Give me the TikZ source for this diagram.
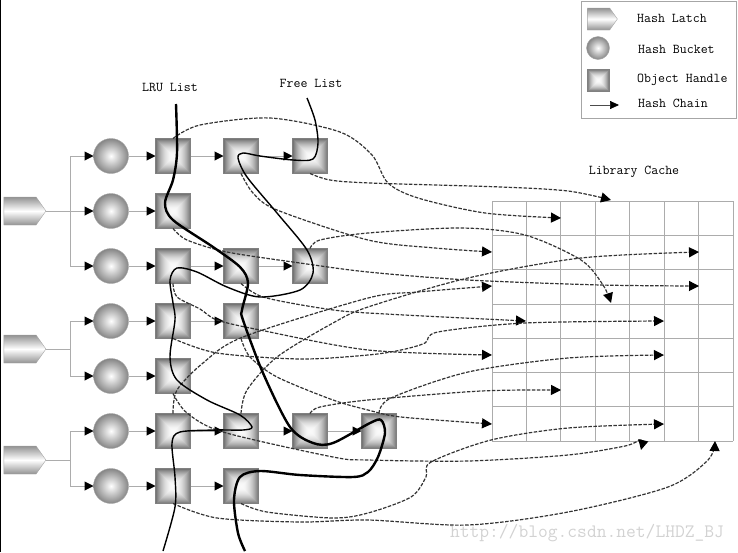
\documentclass[tikz,border=0pt]{standalone}
\usetikzlibrary{arrows.meta,shapes.symbols}
\pgfdeclarefunctionalshading{handleface}{\pgfpoint{-50bp}{-50bp}}{\pgfpoint{50bp}{50bp}}{}{
  abs exch abs 2 copy lt {exch} if pop
  25 div dup mul 0.55 mul 0.98 exch sub dup dup
}
\tikzset{
  latch/.style={signal,signal to=east,signal pointer angle=110,draw=gray!70,inner sep=0pt,outer sep=0pt,
    minimum width=42pt,minimum height=28pt,top color=gray!85,bottom color=gray!85,middle color=white},
  bucket/.style={circle,inner sep=0pt,outer sep=0pt,minimum size=35pt,draw=gray!70,inner color=white,outer color=gray!95},
  handle/.style={rectangle,inner sep=0pt,outer sep=0pt,minimum size=35pt,draw=gray,line width=0.8pt,shading=handleface},
  chain/.style={draw=gray!65,line width=1pt,-{Triangle[length=9pt,width=9pt,black]}},
  branch/.style={draw=gray!65,line width=1pt},
  gridline/.style={draw=gray!65,line width=0.9pt},
  cachelink/.style={dash pattern=on 3.5pt off 1.5pt,line width=1.2pt,black!80,-{Triangle[length=10pt,width=10pt,black]}},
  lrulist/.style={black,line width=2.4pt},
  freelist/.style={black,line width=1.4pt},
  caption/.style={inner sep=0pt,font=\fontsize{13.5}{15}\ttfamily},
}
\begin{document}
\begin{tikzpicture}[x=1pt,y=-1pt]
\useasboundingbox (0,0) rectangle (738,552);
\coordinate (edgetop) at (0,0);
\coordinate (edgebottom) at (0,552);
\draw[black,line width=2pt] (edgetop) -- (edgebottom);

% legend
\draw[gray!70,line width=0.9pt] (581,1) rectangle (736,118);
\node[latch,minimum width=30pt,minimum height=22pt] (keylatch) at (598.5,19) {};
\node[bucket,minimum size=23pt] (keybucket) at (598,48) {};
\node[handle,minimum size=22pt] (keyhandle) at (598,80) {};
\coordinate (keystart) at (590,105);
\coordinate (keyend) at (619,105);
\draw[black!70,line width=0.7pt,-{Triangle[length=9pt,width=8pt,black]}] (keystart) -- (keyend);
\node[caption,anchor=west] (keytext1) at (637,18) {Hash Latch};
\node[caption,anchor=west] (keytext2) at (638,49) {Hash Bucket};
\node[caption,anchor=west] (keytext3) at (637,80) {Object Handle};
\node[caption,anchor=west] (keytext4) at (638,103) {Hash Chain};

\node[caption] (lrutext) at (170,87) {LRU List};
\node[caption] (freetext) at (311,83) {Free List};
\node[caption] (cachetext) at (634,172) {Library Cache};
\node[inner sep=0pt,gray!35,font=\fontsize{19}{21}\ttfamily] (marktext) at (587,533) {http://blog.csdn.net/LHDZ\_BJ};

% library cache
\foreach \xpos in {492,526.4,560.9,595.3,629.7,664.1,698.6,733} {
  \draw[gridline] (\xpos,201) -- (\xpos,441);
}
\foreach \ypos in {201,235.3,269.6,304,338,372.4,406.7,441} {
  \draw[gridline] (492,\ypos) -- (733,\ypos);
}

% latches
\node[latch] (latch1) at (20,211) {};
\node[latch] (latch2) at (20,349) {};
\node[latch] (latch3) at (20,460) {};
\coordinate (fork1) at (70,211);
\coordinate (fork2) at (70,349);
\coordinate (fork3) at (70,460);
\draw[branch] (latch1.east) -- (fork1);
\draw[branch] (latch2.east) -- (fork2);
\draw[branch] (latch3.east) -- (fork3);

% buckets and first handles
\foreach \row/\ypos/\fork in {1/156/fork1,2/211/fork1,3/266/fork1,4/321/fork2,5/376/fork2,6/431/fork3,7/486/fork3} {
  \node[bucket] (bucket\row) at (111,\ypos) {};
  \node[handle] (handle\row a) at (173,\ypos) {};
  \draw[chain] (\fork) |- (bucket\row);
  \draw[chain] (bucket\row) -- (handle\row a);
}

% other handles
\node[handle] (handle1b) at (241,156) {};
\node[handle] (handle1c) at (310,156) {};
\node[handle] (handle3b) at (241,266) {};
\node[handle] (handle3c) at (310,266) {};
\node[handle] (handle4b) at (241,321) {};
\node[handle] (handle6b) at (241,431) {};
\node[handle] (handle6c) at (310,431) {};
\node[handle] (handle6d) at (379,431) {};
\node[handle] (handle7b) at (241,486) {};
\draw[chain] (handle1a) -- (handle1b);
\draw[chain] (handle1b) -- (handle1c);
\draw[chain] (handle3a) -- (handle3b);
\draw[chain] (handle3b) -- (handle3c);
\draw[chain] (handle4a) -- (handle4b);
\draw[chain] (handle6a) -- (handle6b);
\draw[chain] (handle6b) -- (handle6c);
\draw[chain] (handle6c) -- (handle6d);
\draw[chain] (handle7a) -- (handle7b);

% links into the cache
\draw[cachelink] plot[smooth] coordinates {(handle1a.north) (200,125) (270,118) (340,132) (372,155) (388,183) (418,198) (485,213) (561,218)};
\draw[cachelink] plot[smooth] coordinates {(handle1c.south) (330,180) (370,183) (501,187) (568,191) (611,200)};
\draw[cachelink] plot[smooth] coordinates {(handle1b.south) (253,193) (277,210) (368,240) (435,248) (492,252)};
\draw[cachelink] plot[smooth] coordinates {(handle2a.south) (187,240) (227,252) (300,263) (368,272) (468,280) (601,285) (699,286)};
\draw[cachelink] plot[smooth] coordinates {(handle3c.north) (320,240) (368,233) (461,228) (525,235) (581,260) (603,285) (611,303)};
\draw[cachelink] plot[smooth] coordinates {(handle3b.south) (263,297) (320,308) (368,313) (526,321)};
\draw[cachelink] plot[smooth] coordinates {(handle3a.south) (177,297) (200,309) (217,320) (260,330) (368,350) (492,355)};
\draw[cachelink] plot[smooth] coordinates {(handle6a.north) (177,390) (203,363) (243,337) (368,298) (418,292) (492,286)};
\draw[cachelink] plot[smooth] coordinates {(handle6b.north) (247,390) (277,357) (333,323) (368,307) (468,278) (581,258) (699,252)};
\draw[cachelink] plot[smooth] coordinates {(handle4a.south) (217,353) (300,359) (368,355) (401,350) (425,343) (438,332) (525,323) (664,321)};
\draw[cachelink] plot[smooth] coordinates {(handle4b.south) (250,357) (277,377) (333,400) (368,410) (401,417) (492,424)};
\draw[cachelink] plot[smooth] coordinates {(handle5a.south) (187,413) (223,432) (333,457) (368,460) (468,461) (568,455) (625,446) (641,440) (641,450)};
\draw[cachelink] plot[smooth] coordinates {(handle6c.north) (320,407) (368,400) (481,391) (561,390)};
\draw[cachelink] plot[smooth] coordinates {(handle6d.north) (391,398) (468,372) (568,358) (664,355)};
\draw[cachelink] plot[smooth] coordinates {(handle7b.south) (267,512) (333,518) (368,513) (411,497) (426,477) (431,462) (491,440) (568,428) (664,424)};
\draw[cachelink] plot[smooth] coordinates {(handle7a.south) (217,518) (300,522) (368,520) (468,525) (568,512) (668,487) (708,460) (715,441)};

% lists
\draw[lrulist] plot[smooth] coordinates {(176,104) (177,153) (173,180) (165,203) (173,220) (213,247) (240,267) (248,283) (242,310) (243,320) (263,373) (290,427) (313,443) (333,443) (370,423) (381,420) (385,433) (378,457) (368,472) (353,477) (300,475) (260,471) (240,477) (234,500) (238,533) (245,551)};
\draw[freelist] plot[smooth] coordinates {(307,98) (315,120) (318,143) (313,159) (293,160) (260,156) (243,153) (238,158) (247,177) (277,213) (307,250) (313,273) (300,290) (260,297) (227,287) (197,272) (177,268) (170,280) (173,303) (175,320) (170,357) (177,380) (207,400) (240,415) (252,427) (243,430) (217,430) (180,432) (172,443) (175,477) (175,507) (163,551)};

\end{tikzpicture}
\end{document}
